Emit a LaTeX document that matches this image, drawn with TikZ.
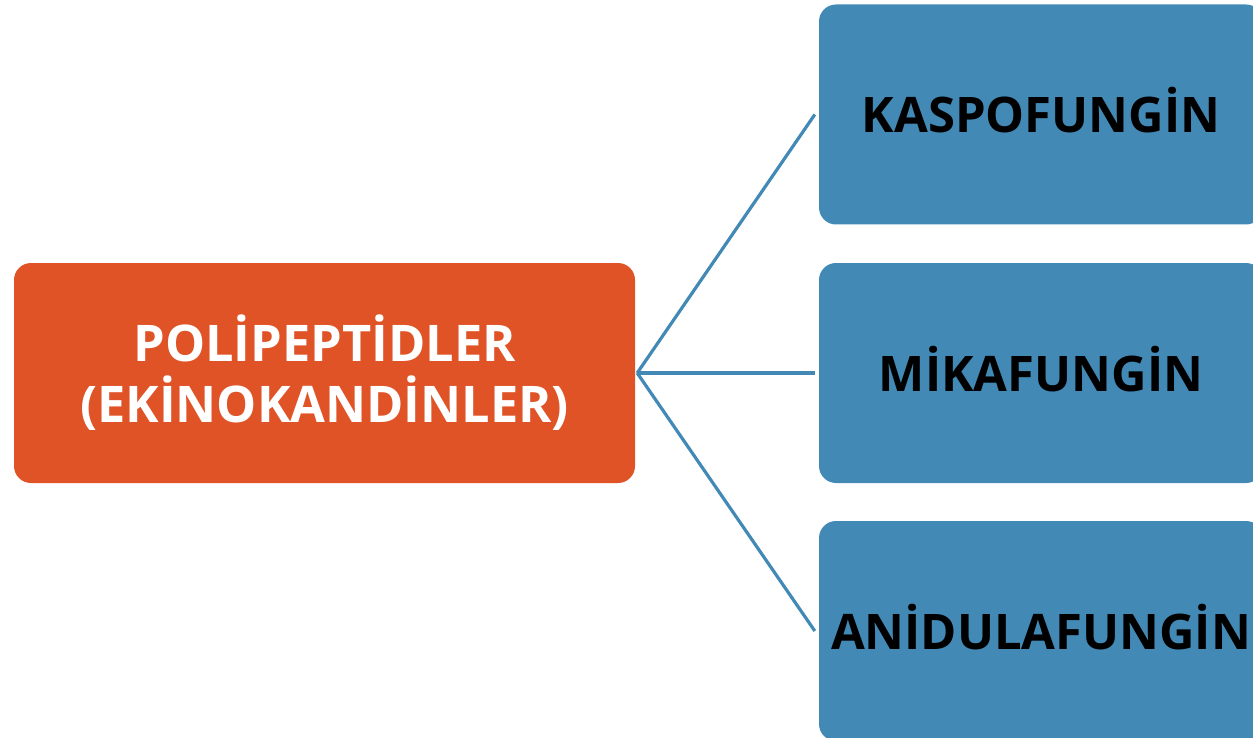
\documentclass[tikz,border=0pt]{standalone}
\usepackage{fontspec}
\setmainfont{Open Sans}
\definecolor{orng}{HTML}{E05327}
\definecolor{blu}{HTML}{428AB5}
\begin{document}
\begin{tikzpicture}[x=1pt,y=-1pt,
  box/.style={rectangle, rounded corners=17pt, minimum width=444pt, minimum height=220pt,
     inner sep=0pt, fill=blu, text=black, font=\bfseries\fontsize{49}{60}\selectfont,
     text height=36pt, text depth=0pt},
  mainbox/.style={rectangle, rounded corners=17pt, minimum width=621pt, minimum height=220pt,
     inner sep=0pt, fill=orng, text=white, align=center,
     font=\bfseries\fontsize{50.5}{61}\selectfont},
  conn/.style={draw=blu, line width=3.2pt}]
\useasboundingbox (0,0) rectangle (1253,738);
\node[mainbox] (P) at (324.5,373) {POLİPEPTİDLER\\(EKİNOKANDİNLER)};
\node[box] (K) at (1041,114.5) {KASPOFUNGİN};
\node[box] (M) at (1041,373) {MİKAFUNGİN};
\node[box] (A) at (1041,631) {ANİDULAFUNGİN};
\coordinate (hub) at ([xshift=2pt]P.east);
\draw[conn] (hub) -- ([xshift=-4pt]K.west);
\draw[conn] (hub) -- ([xshift=-4pt]M.west);
\draw[conn] (hub) -- ([xshift=-4pt]A.west);
\end{tikzpicture}
\end{document}
